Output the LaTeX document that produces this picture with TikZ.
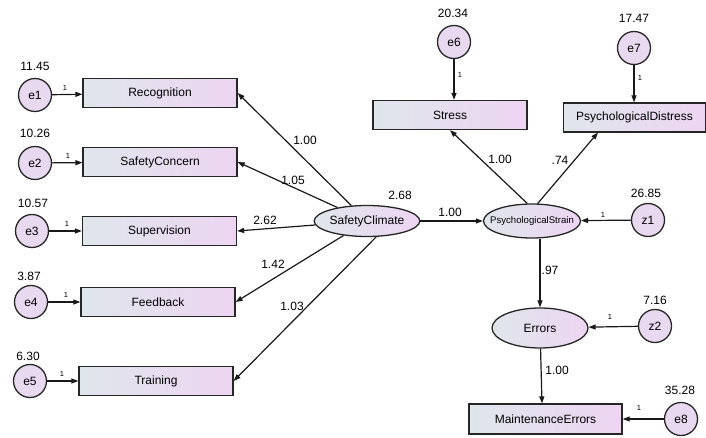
\documentclass[tikz,border=0pt]{standalone}
\usepackage{fontspec}
\setmainfont{Liberation Sans}
\usetikzlibrary{arrows.meta,shapes.geometric}
\definecolor{gl}{HTML}{DFE6EC}
\definecolor{gr}{HTML}{EDD5F2}
\definecolor{ec}{HTML}{E9D9F0}
\tikzset{
  obs/.style={draw=black!85,line width=1.3pt,rectangle,minimum width=154pt,minimum height=29pt,inner sep=0pt,left color=gl,right color=gr,font=\fontsize{12}{13}\selectfont},
  lat/.style={draw=black!85,line width=1.3pt,ellipse,minimum width=97pt,minimum height=31pt,inner sep=0pt,left color=gl,right color=gr,font=\fontsize{12}{13}\selectfont},
  err/.style={draw=black!85,line width=1.3pt,circle,minimum size=33pt,inner sep=0pt,fill=ec,font=\fontsize{12}{13}\selectfont},
  arr/.style={draw=black!90,line width=1.2pt,-{Triangle[length=7pt,width=5pt]}},
  val/.style={font=\fontsize{12}{13}\selectfont,inner sep=0pt},
  one/.style={font=\fontsize{7.5}{8}\selectfont,inner sep=0pt}
}
\begin{document}
\begin{tikzpicture}[x=1pt,y=-1pt]
\useasboundingbox (0,0) rectangle (706,438);
% observed boxes (left)
\node[obs] (rec) at (160,93) {Recognition};
\node[obs] (sco) at (160,162) {SafetyConcern};
\node[obs] (sup) at (159.5,231) {Supervision};
\node[obs] (fee) at (158,302) {Feedback};
\node[obs] (tra) at (156,381) {Training};
% error circles (left)
\node[err] (e1) at (35,95) {e1};
\node[err] (e2) at (35,163) {e2};
\node[err] (e3) at (32,231) {e3};
\node[err] (e4) at (31,302) {e4};
\node[err] (e5) at (30,381) {e5};
\node[val] (v1) at (35,66) {11.45};
\node[val] (v2) at (35,133) {10.26};
\node[val] (v3) at (33,203) {10.57};
\node[val] (v4) at (29,276) {3.87};
\node[val] (v5) at (28,356) {6.30};
\draw[arr] (e1) -- (rec);
\draw[arr] (e2) -- (sco);
\draw[arr] (e3) -- (sup);
\draw[arr] (e4) -- (fee);
\draw[arr] (e5) -- (tra);
\node[one] (o1) at (65,88) {1};
\node[one] (o2) at (68,156) {1};
\node[one] (o3) at (67,224) {1};
\node[one] (o4) at (66,295) {1};
\node[one] (o5) at (62,374) {1};
% latent
\node[lat] (sc) at (367,221) {SafetyClimate};
\node[lat,minimum height=34pt,font=\fontsize{9.6}{10}\selectfont] (ps) at (532,221) {\makebox[0pt]{PsychologicalStrain}};
\node[lat,minimum width=96pt,minimum height=40pt] (er) at (540,328) {Errors};
\node[val] (vsc) at (400,195) {2.68};
% loadings from SafetyClimate
\draw[arr] (sc) -- (rec.east);
\draw[arr] (sc) -- (sco.east);
\draw[arr] (sc) -- (sup.east);
\draw[arr] (sc) -- (fee.east);
\draw[arr] (sc.-60) -- (tra.east);
\node[val] (l1) at (305,140) {1.00};
\node[val] (l2) at (293,180) {1.05};
\node[val] (l3) at (265,220) {2.62};
\node[val] (l4) at (273,264) {1.42};
\node[val] (l5) at (292,306) {1.03};
\draw[arr] (sc) -- (ps);
\node[val] (l6) at (450,212) {1.00};
% psych strain indicators
\node[obs] (str) at (450,115) {Stress};
\node[obs,minimum width=142pt] (pd) at (634.5,117.5) {PsychologicalDistress};
\node[err] (e6) at (454,42) {e6};
\node[err] (e7) at (634,48) {e7};
\node[val] (v6) at (453,13) {20.34};
\node[val] (v7) at (634,18) {17.47};
\draw[arr] (e6) -- (e6 |- str.north);
\draw[arr] (e7) -- (e7 |- pd.north);
\node[one] (o6) at (460,75) {1};
\node[one] (o7) at (640,78) {1};
\draw[arr] (ps.105) -- (str.south);
\draw[arr] (ps.72) -- (598,132.5);
\node[val] (l7) at (500,159) {1.00};
\node[val] (l8) at (560,160) {.74};
\node[err] (z1) at (648,220) {z1};
\node[val] (vz1) at (646,193) {26.85};
\draw[arr] (z1) -- (ps);
\node[one] (o8) at (603,215) {1};
% errors
\draw[arr] (ps.south -| er.north) -- (er.north);
\node[val] (l9) at (550,270) {.97};
\node[err] (z2) at (655,326) {z2};
\node[val] (vz2) at (655,300) {7.16};
\draw[arr] (z2) -- (er);
\node[one] (o9) at (610,317) {1};
\node[obs,minimum width=153pt,minimum height=30pt] (me) at (545.5,419) {MaintenanceErrors};
\draw[arr] (er) -- (me.north -| 542,0);
\node[val] (l10) at (557,370) {1.00};
\node[err] (e8) at (681,419) {e8};
\node[val] (v8) at (680,390) {35.28};
\draw[arr] (e8) -- (me);
\node[one] (o10) at (639,408) {1};
\end{tikzpicture}
\end{document}
